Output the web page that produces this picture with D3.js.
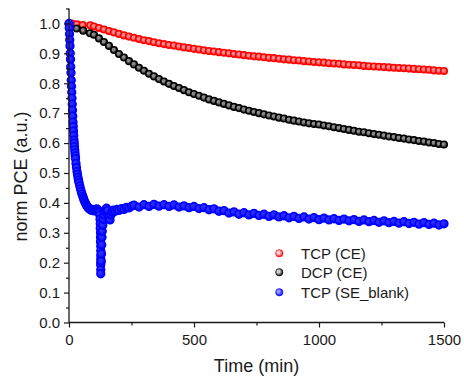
<!DOCTYPE html>
<html><head><meta charset="utf-8">
<script src="https://cdn.jsdelivr.net/npm/d3@7"></script>
<style>body{margin:0;background:#fff}svg{display:block}text{font-family:"Liberation Sans",Arial,sans-serif;fill:#1a1a1a}</style>
</head><body><svg id="c" width="464" height="383"></svg>
<script>
// ---- data ----
const seriesNames = ["TCP (CE)", "DCP (CE)", "TCP (SE_blank)"];
const seriesColors = ["#ff0000", "#000000", "#0000ff"];
const xTicks = [0, 500, 1000, 1500];
const yTicks = [0,0.1,0.2,0.3,0.4,0.5,0.6,0.7,0.8,0.9,1.0];

const redTime = [12,32,55,85,100,120,140,160,180,200,220,240,260,280,300,320,340,360,380,400,420,440,460,480,500,520,540,560,580,600,620,640,660,680,700,720,740,760,780,800,820,840,860,880,900,920,940,960,980,1000,1020,1040,1060,1080,1100,1120,1140,1160,1180,1200,1220,1240,1260,1280,1300,1320,1340,1360,1380,1400,1420,1440,1460,1480,1500];
const redNorm = [1.000,0.997,0.995,0.994,0.990,0.985,0.980,0.975,0.970,0.965,0.960,0.956,0.952,0.948,0.944,0.941,0.937,0.934,0.931,0.928,0.926,0.923,0.920,0.918,0.915,0.913,0.910,0.908,0.906,0.904,0.902,0.900,0.898,0.896,0.894,0.892,0.890,0.889,0.887,0.885,0.884,0.882,0.880,0.879,0.877,0.876,0.874,0.873,0.871,0.870,0.869,0.867,0.866,0.865,0.863,0.862,0.861,0.860,0.858,0.857,0.856,0.855,0.854,0.853,0.852,0.851,0.850,0.849,0.848,0.847,0.846,0.845,0.843,0.842,0.841];

const blackTime = [0,31,57,84,100,120,140,160,180,200,220,240,260,280,300,320,340,360,380,400,420,440,460,480,500,520,540,560,580,600,620,640,660,680,700,720,740,760,780,800,820,840,860,880,900,920,940,960,980,1000,1020,1040,1060,1080,1100,1120,1140,1160,1180,1200,1220,1240,1260,1280,1300,1320,1340,1360,1380,1400,1420,1440,1460,1480,1500];
const blackNorm = [1.000,0.983,0.976,0.967,0.962,0.950,0.938,0.925,0.911,0.898,0.886,0.874,0.863,0.852,0.842,0.832,0.823,0.814,0.806,0.798,0.791,0.784,0.777,0.770,0.764,0.758,0.752,0.746,0.741,0.736,0.731,0.726,0.721,0.717,0.712,0.708,0.704,0.700,0.696,0.692,0.689,0.685,0.682,0.678,0.675,0.672,0.669,0.666,0.664,0.662,0.659,0.656,0.653,0.650,0.647,0.644,0.641,0.638,0.636,0.633,0.630,0.628,0.625,0.622,0.620,0.617,0.615,0.612,0.610,0.607,0.605,0.602,0.600,0.597,0.595];

const blueTime = [0,1,2,3,4,5,6,7,8,9,10,11,12,13,14,15,16,17,18,19,20,21,22,23,24,25,26,28,30,32,34,36,38,40,43,46,49,52,55,58,61,64,67,70,73,76,79,82,85,88,91,94,97,100,103,106,109,112,115,118,121,123,124,125,125,126,126,126,127,127,127,127,127,127,127,127,129,130,131,132,133,135,137,139,142,146,150,155,160,164,168,172,178,185,192,200,210,220,230,240,250,260,280,300,320,340,360,380,400,420,440,460,480,500,520,540,560,580,600,620,640,660,680,700,720,740,760,780,800,820,840,860,880,900,920,940,960,980,1000,1020,1040,1060,1080,1100,1120,1140,1160,1180,1200,1220,1240,1260,1280,1300,1320,1340,1360,1380,1400,1420,1440,1460,1480,1500];
const blueNorm = [1.000,0.985,0.965,0.945,0.925,0.900,0.880,0.855,0.835,0.810,0.790,0.770,0.750,0.730,0.710,0.690,0.670,0.655,0.640,0.625,0.610,0.600,0.588,0.577,0.567,0.557,0.548,0.532,0.518,0.505,0.495,0.485,0.476,0.468,0.457,0.447,0.438,0.430,0.422,0.415,0.408,0.402,0.397,0.392,0.388,0.385,0.382,0.380,0.378,0.377,0.375,0.378,0.374,0.377,0.373,0.378,0.375,0.380,0.376,0.372,0.368,0.360,0.345,0.330,0.315,0.300,0.285,0.270,0.255,0.240,0.225,0.212,0.200,0.192,0.176,0.163,0.205,0.230,0.260,0.285,0.305,0.325,0.345,0.360,0.372,0.378,0.382,0.375,0.355,0.343,0.360,0.370,0.376,0.372,0.378,0.375,0.381,0.378,0.385,0.383,0.389,0.392,0.386,0.394,0.388,0.395,0.389,0.394,0.388,0.393,0.386,0.390,0.384,0.388,0.381,0.384,0.377,0.380,0.372,0.374,0.366,0.370,0.362,0.367,0.360,0.365,0.358,0.362,0.355,0.360,0.353,0.357,0.350,0.355,0.348,0.353,0.346,0.351,0.344,0.349,0.343,0.347,0.341,0.346,0.340,0.344,0.338,0.343,0.337,0.341,0.335,0.340,0.334,0.338,0.332,0.337,0.331,0.335,0.329,0.334,0.328,0.332,0.326,0.330];

// ---- chart ----
const svg = d3.select("#c");
const x = d3.scaleLinear().domain([0, 1500]).range([69, 444]);
const y = d3.scaleLinear().domain([0, 1.05]).range([322.5, 8.5]);

const defs = svg.append("defs");
const grad = [["gR","#ff8c8c","#ff0000"],["gK","#8a8a8a","#000000"],["gB","#2a2aff","#0000ff"],
              ["lR","#ffd8d8","#ff0000"],["lK","#d0d0d0","#000000"],["lB","#9090ff","#0000ff"]];
grad.forEach(([id,c0,c1]) => {
  const g = defs.append("radialGradient").attr("id", id).attr("cx","45%").attr("cy","45%").attr("r","55%").attr("fx","35%").attr("fy","35%");
  g.append("stop").attr("offset","0%").attr("stop-color", c0);
  g.append("stop").attr("offset","35%").attr("stop-color", c0);
  g.append("stop").attr("offset","100%").attr("stop-color", c1);
});

const series = [
  {t: redTime, v: redNorm, g: "gR", l: "lR", c: seriesColors[0], r: 3.3},
  {t: blackTime, v: blackNorm, g: "gK", l: "lK", c: seriesColors[1], r: 3.3},
  {t: blueTime, v: blueNorm, g: "gB", l: "lB", c: seriesColors[2], r: 3.9}
];
series.forEach(s => {
  svg.append("g").selectAll("circle").data(s.t.map((t,i)=>[t,s.v[i]])).join("circle")
    .attr("cx", d => x(d[0])).attr("cy", d => y(d[1])).attr("r", s.r)
    .attr("fill", `url(#${s.g})`).attr("stroke", s.c).attr("stroke-width", 1.5);
});

// axes
const xAxis = svg.append("g").attr("transform", "translate(0,322.5)")
  .call(d3.axisBottom(x).tickValues(xTicks).tickSize(5).tickPadding(7).tickFormat(d3.format("d")));
svg.append("g").attr("transform", "translate(0,322.5)")
  .call(d3.axisBottom(x).tickValues([250,750,1250]).tickSize(3).tickFormat(""))
  .select(".domain").remove();
const yAxis = svg.append("g").attr("transform", "translate(69,0)")
  .call(d3.axisLeft(y).tickValues(yTicks).tickSize(5).tickPadding(4).tickFormat(d3.format(".1f")));
svg.append("g").attr("transform", "translate(69,0)")
  .call(d3.axisLeft(y).tickValues([0.05,0.15,0.25,0.35,0.45,0.55,0.65,0.75,0.85,0.95,1.05]).tickSize(3).tickFormat(""))
  .select(".domain").remove();
svg.selectAll(".domain").attr("stroke","#1a1a1a").attr("stroke-width",1.3);
svg.selectAll(".tick line").attr("stroke","#1a1a1a").attr("stroke-width",1.2);
svg.selectAll(".tick text").style("font-size","15px").style("font-family","'Liberation Sans',Arial,sans-serif").attr("fill","#1a1a1a");
xAxis.select(".domain").attr("d", `M${x(0)},0H${x(1500)}`);
yAxis.select(".domain").attr("d", `M0,${y(0)}V${y(1.05)}`);

// titles
svg.append("text").attr("x", 256.5).attr("y", 372).attr("text-anchor","middle")
  .style("font-size","18px").text("Time (min)");
svg.append("text").attr("transform","translate(27,176.5) rotate(-90)").attr("text-anchor","middle")
  .style("font-size","18px").text("norm PCE (a.u.)");

// legend
const lg = svg.append("g");
const ly = [253.3, 272.3, 292.3];
seriesNames.forEach((n,i) => {
  lg.append("circle").attr("cx", 279.3).attr("cy", ly[i]).attr("r", 3.7)
    .attr("fill", `url(#${series[i].l})`).attr("stroke", seriesColors[i]).attr("stroke-width", 0.5);
  lg.append("text").attr("x", 301).attr("y", ly[i]).attr("dy","0.36em").style("font-size","15px").text(n);
});
</script></body></html>
